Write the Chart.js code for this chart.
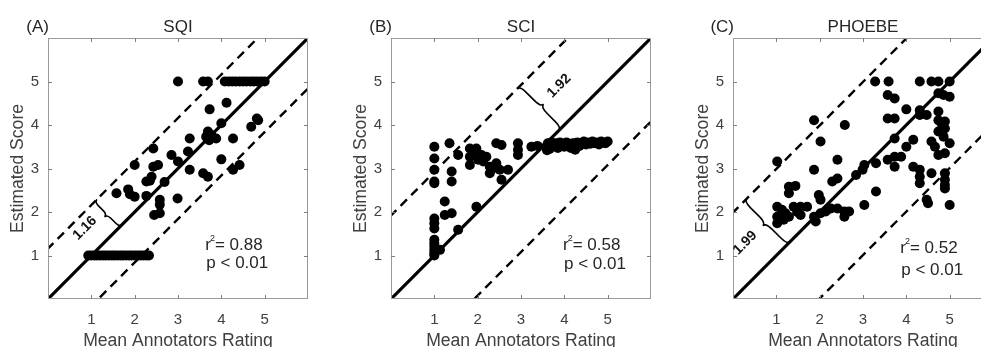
<!DOCTYPE html>
<html>
<head>
<meta charset="utf-8">
<script src="https://cdn.jsdelivr.net/npm/chart.js@4.4.1/dist/chart.umd.min.js"></script>
<style>
  html, body { margin: 0; padding: 0; background: #fff; overflow: hidden; }
  body { width: 981px; height: 347px; position: relative; }
  canvas { position: absolute; top: 0; }
</style>
</head>
<body>
<canvas id="sqi" width="330" height="347" style="left:0px"></canvas>
<canvas id="sci" width="330" height="347" style="left:343px"></canvas>
<canvas id="phoebe" width="330" height="347" style="left:685px"></canvas>
<script>
// values
const tickValues = [1, 2, 3, 4, 5];
const panelTitles = ["SQI", "SCI", "PHOEBE"];
const panelTags = ["(A)", "(B)", "(C)"];
const bandOffsets = [1.16, 1.92, 1.99];
const r2Values = ["0.88", "0.58", "0.52"];
const pValues = ["p < 0.01", "p < 0.01", "p < 0.01"];

const sqiRating = [
  0.93, 1.0, 1.07, 1.13, 1.2, 1.27, 1.33, 1.4, 1.47, 1.53, 1.6, 1.67, 1.73, 1.8, 1.87, 1.93, 2.0, 2.07, 2.13, 2.2, 2.27, 2.33,
  3.0, 3.58, 3.69, 4.08, 4.17, 4.25, 4.33, 4.42, 4.5, 4.58, 4.67, 4.75, 4.83, 4.92, 5.0,
  4.12, 3.73, 4.0, 4.69, 4.85, 4.82, 3.65, 3.77, 3.69, 3.88, 4.27, 3.27, 3.23, 2.85, 3.0, 4.0,
  3.27, 3.58, 3.69, 4.27, 4.42, 2.43, 2.0, 2.43, 2.54, 2.39, 2.35, 2.27, 2.69, 1.58, 1.85, 1.89,
  2.0, 2.27, 2.58, 2.58, 2.45, 2.58, 2.99, 3.72
];
const sqiScore = [
  1, 1, 1, 1, 1, 1, 1, 1, 1, 1, 1, 1, 1, 1, 1, 1, 1, 1, 1, 1, 1, 1,
  5, 5, 5, 5, 5, 5, 5, 5, 5, 5, 5, 5, 5, 5, 5,
  4.51, 4.36, 4.04, 3.96, 4.11, 4.15, 3.73, 3.77, 3.85, 3.69, 3.69, 3.69, 3.39, 3.31, 3.16, 3.21,
  2.97, 2.89, 2.81, 2.97, 3.08, 3.46, 3.08, 3.04, 3.08, 2.81, 2.72, 2.7, 2.69, 2.43, 2.52, 2.41,
  2.35, 2.37, 2.28, 2.17, 1.93, 1.97, 2.31, 3.65
];

const sciRating = [
  1, 1, 1, 1, 1, 1, 1, 1, 1, 1, 1, 1, 1, 1, 1.13,
  1.35, 1.4, 1.4, 1.55, 1.82, 1.97, 1.82, 1.94, 1.82, 2.01, 2.09, 2.13, 2.28, 2.28, 2.43, 2.51,
  2.7, 2.55, 2.43, 2.55, 2.93, 2.93, 2.93, 3.24, 3.38, 1.24, 1.24, 1.4, 1.97, 1.55, 2.35, 2.2,
  3.58, 3.62, 3.66, 3.7, 3.75, 3.8, 3.85, 3.9, 3.95, 4.0, 4.05, 4.1, 4.15, 4.2, 4.25, 4.3,
  4.35, 4.4, 4.45, 4.5, 4.55, 4.6, 4.65, 4.7, 4.75, 4.8, 4.85, 4.9, 4.95, 5.0, 3.6
];
const sciScore = [
  3.5, 3.23, 2.97, 2.7, 2.66, 1.85, 1.74, 1.62, 1.36, 1.28, 1.2, 1.12, 1.05, 1.0, 1.13,
  3.58, 2.93, 2.7, 3.31, 3.46, 3.46, 3.27, 3.35, 3.08, 3.2, 3.31, 3.16, 3.04, 2.89, 3.12, 2.97,
  2.97, 2.74, 3.58, 3.54, 3.58, 3.43, 3.31, 3.5, 3.52, 2.24, 1.93, 1.97, 2.12, 1.59, 3.0, 3.27,
  3.5, 3.58, 3.45, 3.6, 3.52, 3.58, 3.47, 3.6, 3.55, 3.5, 3.6, 3.56, 3.47, 3.58, 3.43, 3.6,
  3.52, 3.57, 3.62, 3.55, 3.6, 3.57, 3.62, 3.58, 3.6, 3.55, 3.62, 3.6, 3.58, 3.62, 3.42
];

const phoebeRating = [
  1.02, 1.02, 1.02, 1.02, 1.13, 1.21, 1.29, 1.17, 1.29, 1.44, 1.29, 1.4, 1.56, 1.71, 1.56, 1.48,
  1.87, 1.87, 2.02, 1.98, 2.02, 1.87, 1.91, 2.02, 2.14, 2.26, 2.41, 2.57, 2.57, 2.68,
  2.29, 2.41, 2.41, 2.58, 2.84, 2.99, 3.03, 3.03, 3.3, 3.3, 3.28, 3.59, 3.57, 3.73, 3.57, 3.73,
  3.73, 3.57, 3.73, 3.73, 3.88, 4.0, 4.0, 4.16, 4.16, 4.31, 4.31, 4.31, 4.31, 4.58, 4.74, 5.0,
  4.31, 4.31, 4.47, 4.58, 4.66, 4.74, 4.89, 4.74, 4.86, 5.0, 4.74, 4.74, 4.81, 4.89, 4.89, 4.74,
  5.0, 4.58, 4.89, 4.89, 4.89, 4.89, 4.47, 4.5, 5.0, 4.86
];
const phoebeScore = [
  3.16, 2.12, 1.89, 1.74, 2.05, 1.97, 1.89, 1.82, 2.58, 2.6, 2.43, 2.12, 2.12, 2.12, 1.93, 2.0,
  4.11, 2.97, 3.62, 2.39, 2.28, 1.89, 1.78, 1.97, 2.01, 2.08, 2.08, 2.01, 1.89, 2.01,
  2.7, 2.77, 3.2, 4.0, 2.85, 2.97, 3.08, 2.16, 3.12, 2.47, 5.0, 5.0, 4.69, 4.61, 4.15, 4.15,
  3.69, 3.2, 3.27, 3.04, 3.27, 4.36, 3.5, 3.66, 3.04, 2.97, 2.81, 2.66, 5.0, 5.0, 5.0, 5.0,
  4.34, 4.23, 4.23, 3.62, 3.5, 3.31, 3.35, 4.73, 4.69, 4.65, 4.31, 4.11, 4.04, 4.08, 3.92, 3.85,
  3.58, 2.89, 2.89, 2.74, 2.62, 2.54, 2.28, 2.2, 2.16, 3.73
];

// annotation placement (in data units)
const statsPos = [[3.63, 1.24, 0.83], [3.97, 1.24, 0.8], [3.86, 1.17, 0.67]];
const braceEnds = [[1.13, 2.29, 1.71, 1.71, -7], [2.91, 4.83, 3.87, 3.87, 8], [0.32, 2.31, 1.32, 1.32, -8]];
const braceTextPos = [[0.85, 1.63], [3.88, 4.9], [0.28, 1.29]];

const FONT = '"Liberation Sans", Arial, sans-serif';

function drawBrace(ctx, p1, p2, h) {
    const dx = p2.x - p1.x, dy = p2.y - p1.y;
    const L = Math.hypot(dx, dy);
    const ux = dx / L, uy = dy / L;
    const nx = uy, ny = -ux;
    const pt = (t, s) => [p1.x + ux * t + nx * s, p1.y + uy * t + ny * s];
    ctx.beginPath();
    ctx.moveTo(...pt(0, 0));
    ctx.quadraticCurveTo(...pt(0, h / 2), ...pt(L * 0.15, h / 2));
    ctx.lineTo(...pt(L * 0.35, h / 2));
    ctx.quadraticCurveTo(...pt(L * 0.5, h / 2), ...pt(L * 0.5, h));
    ctx.quadraticCurveTo(...pt(L * 0.5, h / 2), ...pt(L * 0.65, h / 2));
    ctx.lineTo(...pt(L * 0.85, h / 2));
    ctx.quadraticCurveTo(...pt(L, h / 2), ...pt(L, 0));
    ctx.stroke();
}

const decor = {
    id: "decor",
    afterDraw(chart, args, o) {
        const { ctx, chartArea: a } = chart;
        const x = chart.scales.x, y = chart.scales.y;
        const i = o.index;
        ctx.save();

        // box and inner ticks
        ctx.strokeStyle = "#9a9a9a";
        ctx.lineWidth = 1;
        ctx.strokeRect(a.left + 0.5, a.top + 0.5, a.right - a.left - 1, a.bottom - a.top - 1);
        ctx.strokeStyle = "#808080";
        ctx.beginPath();
        tickValues.forEach((v) => {
            const px = Math.round(x.getPixelForValue(v)) + 0.5;
            ctx.moveTo(px, a.top); ctx.lineTo(px, a.top + 4);
            ctx.moveTo(px, a.bottom); ctx.lineTo(px, a.bottom - 4);
            const py = Math.round(y.getPixelForValue(v)) + 0.5;
            ctx.moveTo(a.left, py); ctx.lineTo(a.left + 4, py);
            ctx.moveTo(a.right, py); ctx.lineTo(a.right - 4, py);
        });
        ctx.stroke();

        const cx = (a.left + a.right) / 2;
        const cy = (a.top + a.bottom) / 2;

        // title and tag
        ctx.textBaseline = "middle";
        ctx.fillStyle = "#262626";
        ctx.font = "17px " + FONT;
        ctx.textAlign = "center";
        ctx.fillText(panelTitles[i], cx, 27);
        ctx.textAlign = "right";
        ctx.fillText(panelTags[i], a.left + 1, 27);

        // axis labels
        ctx.fillStyle = "#404040";
        ctx.font = "17.6px " + FONT;
        ctx.textAlign = "center";
        ctx.fillText("Mean Annotators Rating", cx, 341);
        ctx.save();
        ctx.translate(18, cy);
        ctx.rotate(-Math.PI / 2);
        ctx.fillText("Estimated Score", 0, 0);
        ctx.restore();

        // r^2 and p
        const sp = statsPos[i];
        const sx = x.getPixelForValue(sp[0]);
        ctx.fillStyle = "#262626";
        ctx.textAlign = "left";
        ctx.font = "17px " + FONT;
        const ry = y.getPixelForValue(sp[1]);
        ctx.fillText("r", sx, ry);
        const rw = ctx.measureText("r").width;
        ctx.font = "9px " + FONT;
        ctx.fillText("2", sx + rw - 1, ry - 7);
        ctx.font = "17px " + FONT;
        ctx.fillText("= " + r2Values[i], sx + rw + 4, ry);
        ctx.fillText(pValues[i], sx + 1, y.getPixelForValue(sp[2]));

        // brace
        const b = braceEnds[i];
        ctx.strokeStyle = "#000";
        ctx.lineWidth = 1.6;
        drawBrace(ctx,
            { x: x.getPixelForValue(b[0]), y: y.getPixelForValue(b[1]) },
            { x: x.getPixelForValue(b[2]), y: y.getPixelForValue(b[3]) },
            b[4]);
        const tp = braceTextPos[i];
        ctx.save();
        ctx.translate(x.getPixelForValue(tp[0]), y.getPixelForValue(tp[1]));
        ctx.rotate(-Math.PI / 4);
        ctx.fillStyle = "#111";
        ctx.font = "bold 14px " + FONT;
        ctx.textAlign = "center";
        ctx.fillText(bandOffsets[i].toFixed(2), 0, 0);
        ctx.restore();

        ctx.restore();
    }
};

function makePanel(canvasId, index, ratings, scores) {
    const c = bandOffsets[index];
    const points = ratings.map((r, k) => ({ x: r, y: scores[k] }));
    const lineStyle = { type: "line", showLine: true, pointRadius: 0, borderColor: "#000", fill: false };
    return new Chart(document.getElementById(canvasId), {
        type: "scatter",
        data: {
            datasets: [
                { ...lineStyle, data: [{ x: -1, y: -1 }, { x: 7, y: 7 }], borderWidth: 3.2 },
                { ...lineStyle, data: [{ x: -1, y: c - 1 }, { x: 7, y: c + 7 }], borderWidth: 2.4, borderDash: [9, 6] },
                { ...lineStyle, data: [{ x: -1, y: -c - 1 }, { x: 7, y: 7 - c }], borderWidth: 2.4, borderDash: [9, 6] },
                { data: points, backgroundColor: "#000", borderWidth: 0, pointRadius: 5, pointHoverRadius: 5 }
            ]
        },
        options: {
            responsive: false,
            animation: false,
            devicePixelRatio: 1,
            layout: { padding: { top: 38, right: 22, left: 0, bottom: 0 } },
            plugins: { legend: { display: false }, tooltip: { enabled: false }, decor: { index } },
            scales: {
                x: {
                    type: "linear", min: 0, max: 6,
                    grid: { display: false, drawTicks: false },
                    border: { display: false },
                    afterFit: (s) => { s.height = 48; },
                    ticks: {
                        stepSize: 1, autoSkip: false, maxRotation: 0, padding: 12,
                        color: "#404040", font: { size: 15, family: FONT },
                        callback: (v) => (tickValues.includes(v) ? v : "")
                    }
                },
                y: {
                    type: "linear", min: 0, max: 6,
                    grid: { display: false, drawTicks: false },
                    border: { display: false },
                    afterFit: (s) => { s.width = 48; },
                    ticks: {
                        stepSize: 1, autoSkip: false, padding: 9,
                        color: "#404040", font: { size: 15, family: FONT },
                        callback: (v) => (tickValues.includes(v) ? v : "")
                    }
                }
            }
        },
        plugins: [decor]
    });
}

makePanel("sqi", 0, sqiRating, sqiScore);
makePanel("sci", 1, sciRating, sciScore);
makePanel("phoebe", 2, phoebeRating, phoebeScore);
</script>
</body>
</html>
